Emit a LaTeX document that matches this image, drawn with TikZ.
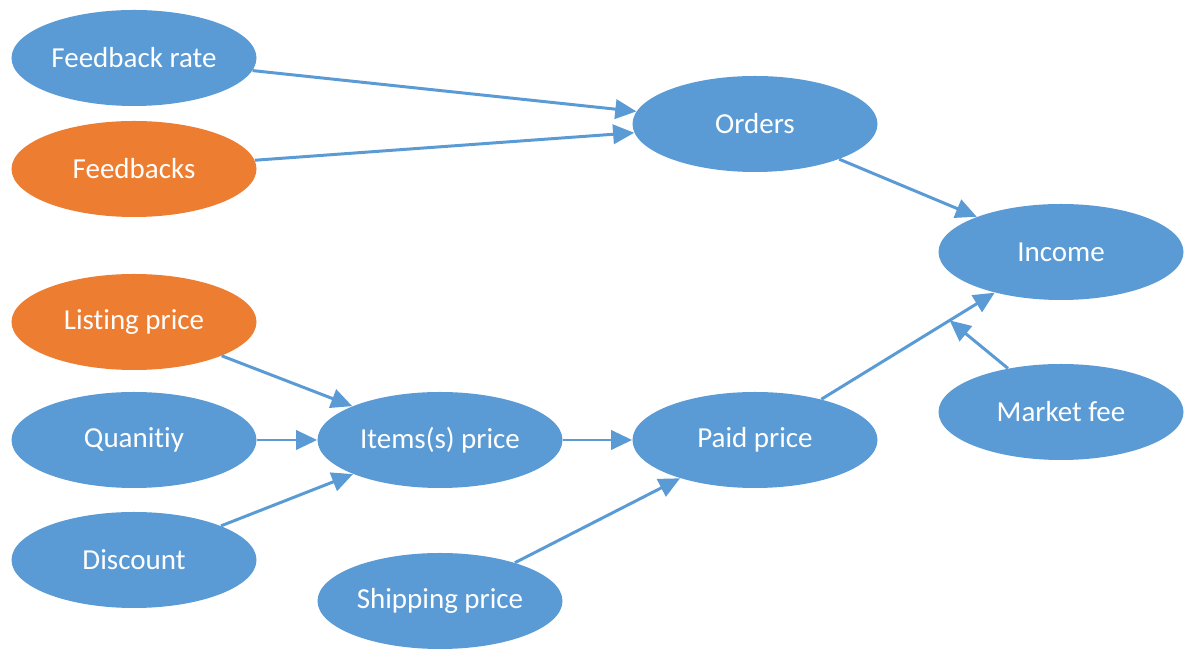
\documentclass[tikz,border=0pt]{standalone}
\usepackage{fontspec}
\setmainfont{Carlito}[Ligatures={NoCommon}]
\usepackage{xcolor}
\usepackage{tikz}
\usetikzlibrary{arrows.meta,shapes.geometric}

\definecolor{cblue}{HTML}{5B9BD5}
\definecolor{corange}{HTML}{ED7D31}

\begin{document}
\begin{tikzpicture}[every node/.style={font=\fontsize{16.5}{19}\selectfont},
  blob/.style={ellipse, fill=cblue, text=white, minimum width=4.9cm, minimum height=1.92cm, inner sep=0pt},
  hot/.style={blob, fill=corange},
  link/.style={draw=cblue, line width=1.7pt, -{Triangle[length=12pt,width=11pt]}}]
\useasboundingbox (0,0) rectangle (23.72,13.02);
% inputs on the left
\node[blob] (fbrate)   at (2.68, 11.86) {Feedback rate};
\node[hot]  (fbacks)   at (2.68, 9.64)  {Feedbacks};
\node[hot]  (listing)  at (2.68, 6.58)  {Listing price};
\node[blob] (qty)      at (2.68, 4.22)  {Quanitiy};
\node[blob] (discount) at (2.68, 1.82)  {Discount};
% middle
\node[blob] (items)    at (8.80, 4.22)  {Items(s) price};
\node[blob] (shipping) at (8.80, 1.00)  {Shipping price};
\node[blob] (orders)   at (15.10, 10.54) {Orders};
\node[blob] (paid)     at (15.10, 4.22) {Paid price};
% right
\node[blob] (income)   at (21.22, 7.98) {Income};
\node[blob] (fee)      at (21.22, 4.78) {Market fee};
\draw[link] (fbrate) -- (orders);
\draw[link] (fbacks) -- (orders);
\draw[link] (orders) -- (income);
\draw[link] (listing) -- (items);
\draw[link] (qty) -- (items);
\draw[link] (discount) -- (items);
\draw[link] (items) -- (paid);
\draw[link] (shipping) -- (paid);
\draw[link] (paid) -- (income) coordinate[pos=0.74] (feein);
\draw[link] (fee) -- (feein);
\end{tikzpicture}
\end{document}
